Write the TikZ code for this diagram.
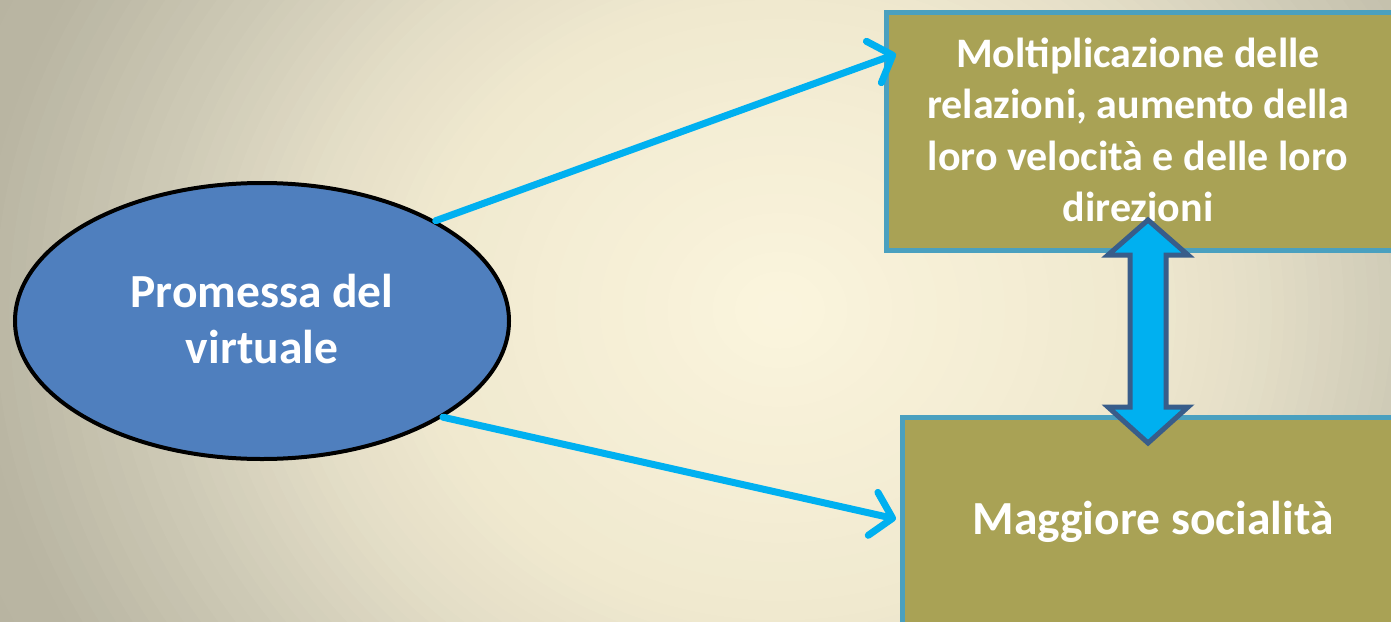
\documentclass[tikz,border=0pt]{standalone}
\usepackage{fontspec}
\setmainfont{Carlito}
\usetikzlibrary{shapes.geometric,arrows.meta}
\definecolor{bgA}{HTML}{FBF5DE}
\definecolor{bgB}{HTML}{F0E9CF}
\definecolor{bgC}{HTML}{E4DEC7}
\definecolor{bgD}{HTML}{CFCBB7}
\definecolor{bgE}{HTML}{BAB6A3}
\definecolor{bgF}{HTML}{B4B09E}
\definecolor{ellfill}{HTML}{4F7FBE}
\definecolor{boxfill}{HTML}{A9A255}
\definecolor{boxline}{HTML}{4AA0BF}
\definecolor{cyanline}{HTML}{00B0F0}
\definecolor{darkblue}{HTML}{385D8A}
\newcommand\bgring[5]{%
  \foreach \i in {0,...,#5}{%
    \pgfmathsetmacro\ff{#2-(#2-#1)*\i/#5}%
    \pgfmathtruncatemacro\pp{100*(#5-\i)/#5}%
    \fill[#4!\pp!#3] (780,310) ellipse [x radius=800*\ff, y radius=690*\ff];
  }}
\tikzset{
  ellnode/.style={ellipse, draw=black, line width=4pt, fill=ellfill, minimum width=494pt, minimum height=276pt, inner sep=0pt},
  boxnode/.style={rectangle, draw=boxline, line width=5pt, fill=boxfill, inner sep=0pt, anchor=north west},
  txt/.style={text=white, font=\bfseries, align=center, inner sep=0pt},
  conn/.style={draw=cyanline, line width=7pt, line cap=round, line join=round, -{Straight Barb[round, length=20pt, width=44pt]}},
  dblarrow/.style={draw=darkblue, fill=cyanline, line width=5pt, line join=miter}
}
\begin{document}
\begin{tikzpicture}[x=1pt, y=-1pt]
\useasboundingbox (0,0) rectangle (1391,621);
\clip (0,0) rectangle (1391,621);
% background gradient
\bgring{1.0}{1.35}{bgE}{bgF}{6}
\bgring{0.78}{1.0}{bgD}{bgE}{12}
\bgring{0.6}{0.78}{bgC}{bgD}{12}
\bgring{0.45}{0.6}{bgB}{bgC}{10}
\bgring{0.0}{0.45}{bgA}{bgB}{16}
% boxes
\node[boxnode, minimum width=520pt, minimum height=238pt] (topbox) at (883.5,9.5) {};
\node[boxnode, minimum width=500pt, minimum height=220pt] (botbox) at (900,414.5) {};
% ellipse
\node[ellnode] (prom) at (262,321) {};
\node[txt, font=\bfseries\fontsize{47.5}{56}\selectfont] (promtxt) at (262,319) {Promessa del\\virtuale};
% box texts
\node[txt, font=\bfseries\fontsize{42}{51.5}\selectfont] (toptxt) at (1138,130) {Moltiplicazione delle\\relazioni, aumento della\\loro velocità e delle loro\\direzioni};
\node[txt, font=\bfseries\fontsize{47.5}{54}\selectfont] (bottxt) at (1153,522) {Maggiore socialità};
% connectors
\coordinate (t1) at (896,54);
\coordinate (t2) at (896,519);
\draw[conn] (prom.30) -- (t1);
\draw[conn] (prom.-28) -- (t2);
% double block arrow
\draw[dblarrow] (1148,220) -- (1188,255) -- (1166,255) -- (1166,407) -- (1188,407) -- (1148,443) -- (1108,407) -- (1130,407) -- (1130,255) -- (1108,255) -- cycle;
\end{tikzpicture}
\end{document}
